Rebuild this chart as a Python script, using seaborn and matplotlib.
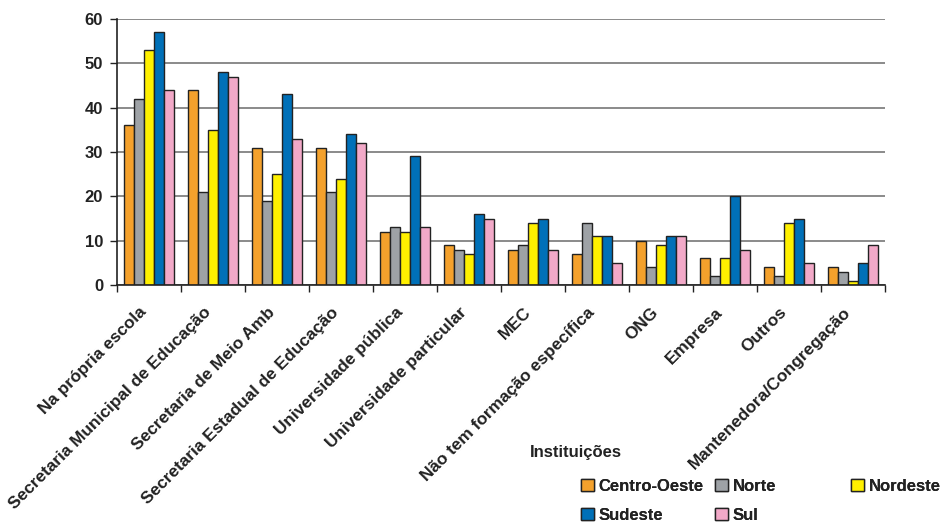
import matplotlib
matplotlib.use("Agg")
import matplotlib.pyplot as plt
import matplotlib.transforms as mtransforms
import seaborn as sns
import pandas as pd
import numpy as np

categories = [
    "Na própria escola",
    "Secretaria Municipal de Educação",
    "Secretaria de Meio Amb",
    "Secretaria Estadual de Educação",
    "Universidade pública",
    "Universidade particular",
    "MEC",
    "Não tem formação específica",
    "ONG",
    "Empresa",
    "Outros",
    "Mantenedora/Congregação",
]
regions = ["Centro-Oeste", "Norte", "Nordeste", "Sudeste", "Sul"]

centro_oeste = [36, 44, 31, 31, 12, 9, 8, 7, 10, 6, 4, 4]
norte = [42, 21, 19, 21, 13, 8, 9, 14, 4, 2, 2, 3]
nordeste = [53, 35, 25, 24, 12, 7, 14, 11, 9, 6, 14, 1]
sudeste = [57, 48, 43, 34, 29, 16, 15, 11, 11, 20, 15, 5]
sul = [44, 47, 33, 32, 13, 15, 8, 5, 11, 8, 5, 9]

y_ticks = [0, 10, 20, 30, 40, 50, 60]

colors = ["#F4A12C", "#9EA2A6", "#FFF000", "#0070B8", "#F2A9C8"]

series = [centro_oeste, norte, nordeste, sudeste, sul]
df = pd.DataFrame(
    [(c, r, v) for r, vals in zip(regions, series) for c, v in zip(categories, vals)],
    columns=["Instituição", "Região", "Valor"],
)

sns.set_theme(style="white")
plt.rcParams["font.family"] = ["Liberation Sans", "DejaVu Sans"]

fig = plt.figure(figsize=(9.41, 5.22), dpi=100)
ax = fig.add_axes([117 / 941, 1 - 285 / 522, (885 - 117) / 941, (285 - 19) / 522])

sns.barplot(
    data=df, x="Instituição", y="Valor", hue="Região",
    order=categories, hue_order=regions, palette=colors, saturation=1,
    width=0.78, gap=0, edgecolor="#222222", linewidth=1.0,
    errorbar=None, legend=False, ax=ax, zorder=3,
)

ax.set_ylim(0, 60)
ax.set_xlim(-0.5, len(categories) - 0.5)
ax.set_yticks(y_ticks)
ax.set_yticklabels([str(t) for t in y_ticks], fontsize=12, fontweight="bold", color="#222222")
ax.yaxis.grid(True, color="#777777", linewidth=1.2, zorder=0)
ax.xaxis.grid(False)
ax.set_xlabel("")
ax.set_ylabel("")

ax.set_xticks(range(len(categories)))
ax.set_xticklabels(categories, rotation=45, ha="right", rotation_mode="anchor",
                   fontsize=12.4, fontweight="bold", color="#222222")
ax.tick_params(axis="x", which="major", length=0, pad=9)
shift = mtransforms.ScaledTranslation(-0.10, -0.07, fig.dpi_scale_trans)
for lbl in ax.get_xticklabels():
    lbl.set_transform(lbl.get_transform() + shift)
ax.set_xticks(np.arange(-0.5, len(categories), 1.0), minor=True)
ax.tick_params(axis="x", which="minor", length=5, width=1, color="#222222", direction="out", bottom=True)
ax.tick_params(axis="y", length=5, width=1, color="#222222", direction="out", left=True, pad=5)

for side in ["top", "right"]:
    ax.spines[side].set_visible(False)
for side in ["left", "bottom"]:
    ax.spines[side].set_color("#222222")
    ax.spines[side].set_linewidth(1.2)
    ax.spines[side].set_zorder(4)

# legend: title, then handles laid out in fixed columns
handles = [c.patches[0] for c in ax.containers[: len(regions)]]
fig.text(530 / 941, 1 - 452 / 522, "Instituições", fontsize=12, fontweight="bold",
         color="#222222", va="center", ha="left")

columns = [([0, 3], 581), ([1, 4], 715), ([2], 851)]
for idx, x_px in columns:
    leg = fig.legend(
        [handles[i] for i in idx], [regions[i] for i in idx],
        loc="upper left", bbox_to_anchor=(x_px / 941, 1 - 479 / 522),
        frameon=False, ncol=1, handlelength=0.75, handleheight=0.75,
        handletextpad=0.3, labelspacing=0.85, borderpad=0, borderaxespad=0,
        prop={"size": 12, "weight": "bold"}, labelcolor="#222222",
    )
    fig.add_artist(leg)

fig.savefig("out.png", dpi=100)
